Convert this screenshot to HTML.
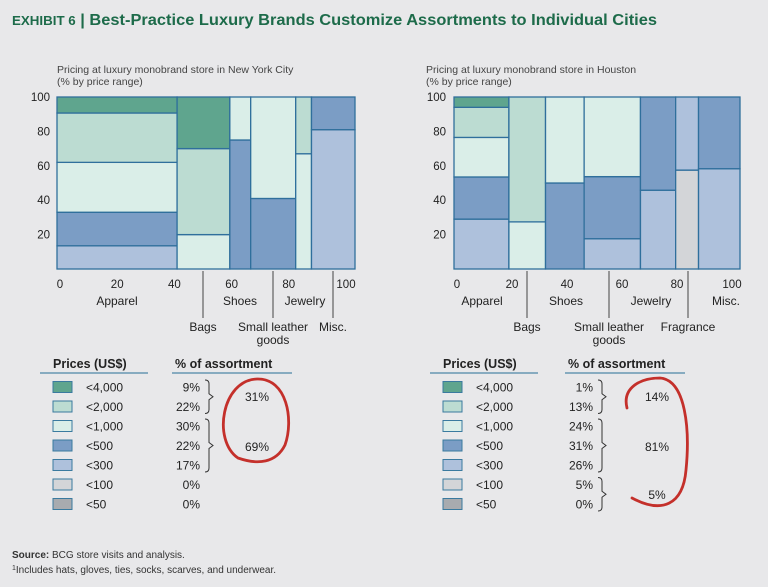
<!DOCTYPE html>
<html><head><meta charset="utf-8"><style>
html,body{margin:0;padding:0;background:#e8e8ea;}
svg{display:block;font-family:"Liberation Sans",sans-serif;}
</style></head><body>
<svg id="s" width="768" height="587" viewBox="0 0 768 587">
<rect x="0" y="0" width="768" height="587" fill="#e8e8ea"/>
<text x="12" y="25" font-size="16" font-weight="bold" fill="#1d6b4a" textLength="645" lengthAdjust="spacingAndGlyphs"><tspan font-size="13">EXHIBIT 6</tspan> | Best-Practice Luxury Brands Customize Assortments to Individual Cities</text>
<text x="57" y="73" font-size="10.5" fill="#444">Pricing at luxury monobrand store in New York City</text>
<text x="57" y="85" font-size="10.5" fill="#444">(% by price range)</text>
<text x="426" y="73" font-size="10.5" fill="#444">Pricing at luxury monobrand store in Houston</text>
<text x="426" y="85" font-size="10.5" fill="#444">(% by price range)</text>
<g id="g1"></g><g id="g2"></g>
<text x="12" y="558" font-size="10" fill="#333"><tspan font-weight="bold">Source:</tspan> BCG store visits and analysis.</text>
<text x="12" y="573" font-size="10" fill="#333"><tspan font-size="7" dy="-3">1</tspan><tspan dy="3">Includes hats, gloves, ties, socks, scarves, and underwear.</tspan></text>
</svg>
<script>
const priceLabels=["<4,000","<2,000","<1,000","<500","<300","<100","<50"];
const priceColors=["#5fa58e","#bcdcd2","#daeee8","#7b9dc5","#aec1dc","#d3d5d8","#a8abaf"];
const yTicks=[20,40,60,80,100];
const xTicks=[0,20,40,60,80,100];
// NYC
const nycCats=["Apparel","Bags","Shoes","Small leather goods","Jewelry","Misc."];
const nycWidths=[40.3,17.7,7,15.1,5.3,14.6];
// shares per category, order: <50,<100,<300,<500,<1000,<2000,<4000 (bottom to top)
const nycShares=[[0,0,13.5,19.5,29,28.7,9.3],[0,0,0,0,20,50,30],[0,0,0,75,25,0,0],[0,0,0,41,59,0,0],[0,0,0,0,67,33,0],[0,0,81,19,0,0,0]];
const nycPct=["9%","22%","30%","22%","17%","0%","0%"];
const nycTotals=["31%","69%"];
// Houston
const houCats=["Apparel","Bags","Shoes","Small leather goods","Jewelry","Fragrance","Misc."];
const houWidths=[19.2,12.8,13.5,19.7,12.3,8,14.5];
const houShares=[[0,0,29,24.5,23,17.5,6],[0,0,0,0,27.4,72.6,0],[0,0,0,50,50,0,0],[0,0,17.6,36.1,46.3,0,0],[0,0,45.8,54.2,0,0,0],[0,57.5,42.5,0,0,0,0],[0,0,58.3,41.7,0,0,0]];
const houPct=["1%","13%","24%","31%","26%","5%","0%"];
const houTotals=["14%","81%","5%"];

const NS="http://www.w3.org/2000/svg";
function mk(parent,tag,attrs,txt){const e=document.createElementNS(NS,tag);for(const k in attrs)e.setAttribute(k,attrs[k]);if(txt!==undefined)e.textContent=txt;parent.appendChild(e);return e;}

function chart(g,cfg){
  const {x0,x1,y0,y1,widths,shares,cats,catPos,tickX0,tickX1,yLabelX,prefix}=cfg;
  const sx=v=>x0+v/100*(x1-x0);
  const sy=v=>y0-v/100*(y0-y1);
  const total=widths.reduce((a,b)=>a+b,0);
  let acc=0;
  widths.forEach((w,i)=>{
    const a=acc/total*100,b=(acc+w)/total*100;acc+=w;
    let cum=0;
    for(let k=0;k<7;k++){
      const v=shares[i][k]; if(v<=0)continue;
      const r=mk(g,"rect",{x:sx(a),y:sy(cum+v),width:sx(b)-sx(a),height:sy(cum)-sy(cum+v),fill:priceColors[6-k],stroke:"#2f6f9c","stroke-width":1.3});
      
      
      cum+=v;
    }
  });
  yTicks.forEach(t=>{const e=mk(g,"text",{x:yLabelX,y:sy(t)+4,"font-size":11.5,fill:"#222","text-anchor":"end"},t);
    
    });
  xTicks.forEach(t=>{const e=mk(g,"text",{x:tickX0+t/100*(tickX1-tickX0),y:288,"font-size":11.5,fill:"#222","text-anchor":"middle"},t);
    
    });
  cats.forEach((c,i)=>{
    const p=catPos[i];
    if(p.low){
      const l=mk(g,"line",{x1:p.x,x2:p.x,y1:y0+2,y2:318,stroke:"#444","stroke-width":1});
      
      
      const words=c==="Small leather goods"?["Small leather","goods"]:[c];
      words.forEach((w,j)=>{const e=mk(g,"text",{x:p.x,y:331+j*13,"font-size":12,fill:"#222","text-anchor":"middle"},w);
        
        });
    }else{
      const e=mk(g,"text",{x:p.x,y:305,"font-size":12,fill:"#222","text-anchor":"middle"},c);
      
      
    }
  });
}
function legend(g,cfg){
  const {lx,pctX,pct,totals,prefix,groups,ell}=cfg;
  let e=mk(g,"text",{x:lx+13,y:368,"font-size":12.5,"font-weight":"bold",fill:"#222"},"Prices (US$)");
  
  
  mk(g,"line",{x1:lx,x2:lx+108,y1:373,y2:373,stroke:"#4d86a8","stroke-width":1.2});
  e=mk(g,"text",{x:pctX-25,y:368,"font-size":12.5,"font-weight":"bold",fill:"#222"},"% of assortment");
  
  
  mk(g,"line",{x1:pctX-28,x2:pctX+92,y1:373,y2:373,stroke:"#4d86a8","stroke-width":1.2});
  priceLabels.forEach((p,i)=>{
    const y=387+i*19.5;
    const r=mk(g,"rect",{x:lx+13,y:y-5.5,width:19,height:11,fill:priceColors[i],stroke:"#3a7a9f","stroke-width":1});
    
    
    const t=mk(g,"text",{x:lx+46,y:y+4.5,"font-size":12,fill:"#222"},p);
    
    
    const v=mk(g,"text",{x:pctX,y:y+4.5,"font-size":12,fill:"#222","text-anchor":"end"},pct[i]);
    
    
  });
  groups.forEach((gr,j)=>{
    const ya=387+gr[0]*19.5-7,yb=387+gr[1]*19.5+7,ym=(ya+yb)/2,bx=pctX+5;
    const b=mk(g,"path",{d:`M${bx},${ya} q4,0 4,4 L${bx+4},${ym-3} l4,3 l-4,3 L${bx+4},${yb-4} q0,4 -4,4`,fill:"none",stroke:"#333","stroke-width":1});
    
    
    const t=mk(g,"text",{x:gr[2],y:gr[3],"font-size":12,fill:"#222","text-anchor":"middle"},totals[j]);
    
    
  });
  const c=mk(g,"path",{d:ell,fill:"none",stroke:"#c4302b","stroke-width":2.8,"stroke-linecap":"round"});
  
  
}
const g1=document.getElementById("g1"),g2=document.getElementById("g2");
chart(g1,{x0:57,x1:355,y0:269,y1:97,widths:nycWidths,shares:nycShares,cats:nycCats,tickX0:60,tickX1:346,yLabelX:50,prefix:"nyc",
  catPos:[{x:117},{x:203,low:1},{x:240},{x:273,low:1},{x:305},{x:333,low:1}]});
chart(g2,{x0:454,x1:740,y0:269,y1:97,widths:houWidths,shares:houShares,cats:houCats,tickX0:457,tickX1:732,yLabelX:446,prefix:"houston",
  catPos:[{x:482},{x:527,low:1},{x:566},{x:609,low:1},{x:651},{x:688,low:1},{x:726}]});
legend(g1,{lx:40,pctX:200,pct:nycPct,totals:nycTotals,prefix:"nyc",groups:[[0,1,257,401],[2,4,257,451]],
  ell:"M238,458 C212,440 222,380 257,379 C287,378 294,420 285,445 C276,463 258,465 238,458"});
legend(g2,{lx:430,pctX:593,pct:houPct,totals:houTotals,prefix:"houston",groups:[[0,1,657,401],[2,4,657,451],[5,6,657,499]],
  ell:"M627,408 C622,388 640,378 660,378 C686,380 690,430 686,470 C683,505 662,514 632,498"});
</script>
</body></html>
